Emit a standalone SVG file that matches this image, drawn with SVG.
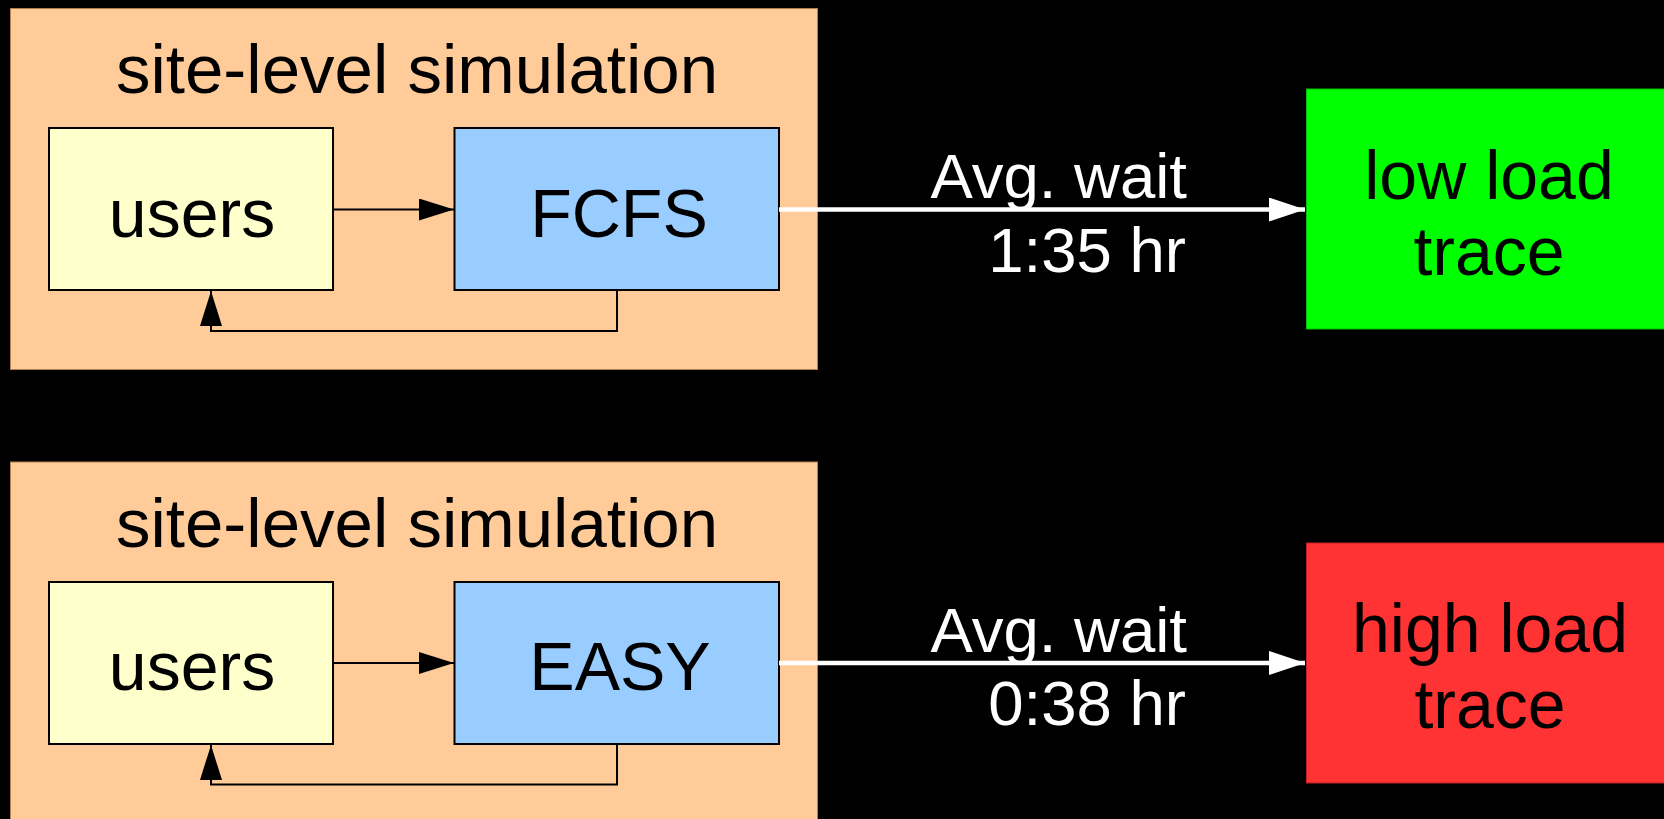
<svg xmlns="http://www.w3.org/2000/svg" width="1664" height="819" viewBox="0 0 1664 819">
<style>
text{font-family:"Liberation Sans",Arial,Helvetica,sans-serif;}
.panel{fill:#FFCC99;stroke:#B08050;stroke-width:1;}
.users{fill:#FFFFCC;stroke:#000;stroke-width:2;}
.sched{fill:#99CCFF;stroke:#000;stroke-width:2;}
.t68{font-size:68px;fill:#000;text-anchor:middle;}
.title{font-size:69px;fill:#000;text-anchor:middle;}
.wt{font-size:63.5px;fill:#fff;text-anchor:end;}
.blk{fill:none;stroke:#000;stroke-width:2;}
.wht{fill:none;stroke:#fff;stroke-width:4.5;}
</style>
<defs>
<marker id="ab" markerUnits="userSpaceOnUse" markerWidth="40" markerHeight="30" refX="35" refY="11" orient="auto" viewBox="0 0 40 30">
<path d="M0,0 L35,11 L0,22 Z" fill="#000"/>
</marker>
<marker id="aw" markerUnits="userSpaceOnUse" markerWidth="40" markerHeight="30" refX="36" refY="12" orient="auto" viewBox="0 0 40 30">
<path d="M0,0 L36,12 L0,24 Z" fill="#fff"/>
</marker>
</defs>
<rect x="0" y="0" width="1664" height="819" fill="#000"/>

<g id="panel-top">
<rect class="panel" x="10.5" y="8.5" width="807" height="361"/>
<text class="title" x="417" y="93">site-level simulation</text>
</g>
<g id="users-top">
<rect class="users" x="49" y="128" width="284" height="162"/>
<text class="t68" x="192" y="237">users</text>
</g>
<g id="fcfs">
<rect class="sched" x="454.5" y="128" width="324.5" height="162"/>
<text class="t68" x="619" y="237">FCFS</text>
</g>
<g id="low-load">
<rect x="1306.5" y="89" width="400" height="240" fill="#00FF00" stroke="#00C000" stroke-width="1"/>
<text class="t68" x="1489" y="199">low load</text>
<text class="t68" x="1489" y="275">trace</text>
</g>

<g id="panel-bottom">
<rect class="panel" x="10.5" y="462" width="807" height="400"/>
<text class="title" x="417" y="546.5">site-level simulation</text>
</g>
<g id="users-bottom">
<rect class="users" x="49" y="582" width="284" height="162"/>
<text class="t68" x="192" y="690">users</text>
</g>
<g id="easy">
<rect class="sched" x="454.5" y="582" width="324.5" height="162"/>
<text class="t68" x="620" y="690">EASY</text>
</g>
<g id="high-load">
<rect x="1306.5" y="543" width="400" height="240" fill="#FF3333" stroke="#C02020" stroke-width="1"/>
<text class="t68" x="1490" y="652">high load</text>
<text class="t68" x="1490" y="728">trace</text>
</g>

<g id="connectors">
<path class="blk" d="M333,209.5 H454" marker-end="url(#ab)"/>
<path class="blk" d="M617,290 V331 H211 V291" marker-end="url(#ab)"/>
<path class="wht" d="M779,209.5 H1305" marker-end="url(#aw)"/>
<path class="blk" d="M333,663 H454" marker-end="url(#ab)"/>
<path class="blk" d="M617,744 V784.5 H211 V745" marker-end="url(#ab)"/>
<path class="wht" d="M779,663 H1305" marker-end="url(#aw)"/>
</g>

<g id="labels">
<text class="wt" x="1187" y="198">Avg. wait</text>
<text class="wt" x="1186" y="272">1:35 hr</text>
<text class="wt" x="1187" y="651.5">Avg. wait</text>
<text class="wt" x="1186" y="725">0:38 hr</text>
</g>
</svg>
